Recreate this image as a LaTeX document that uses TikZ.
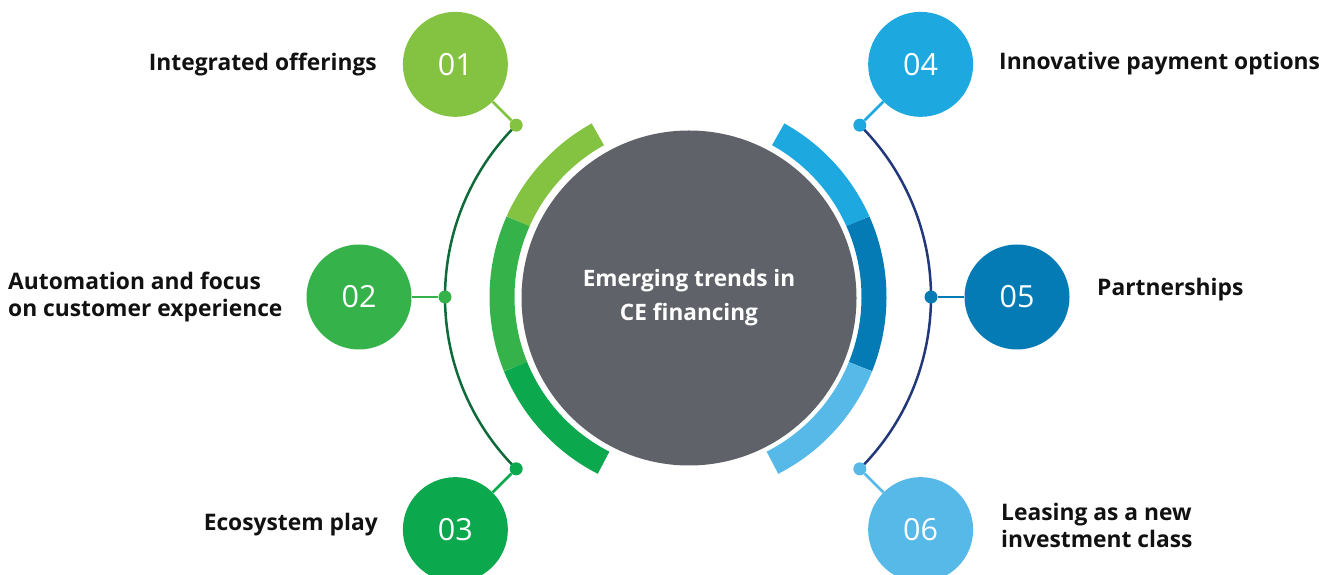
\documentclass[tikz,border=0pt]{standalone}
\usepackage{fontspec}
\setmainfont{Open Sans}
\usetikzlibrary{calc}
\definecolor{cOne}{HTML}{84C341}
\definecolor{cTwo}{HTML}{35B34A}
\definecolor{cThree}{HTML}{0BA84E}
\definecolor{cFour}{HTML}{1DA9E0}
\definecolor{cFive}{HTML}{047BB5}
\definecolor{cSix}{HTML}{56B9E7}
\definecolor{hubgray}{HTML}{5F6369}
\definecolor{leftline}{HTML}{0E6B39}
\definecolor{rightline}{HTML}{22387A}
\definecolor{labeltext}{HTML}{111111}
\tikzset{
  numbadge/.style={circle, fill=#1, minimum size=105pt, inner sep=0pt,
    text=white, font=\fontsize{30.5}{30}\selectfont},
  joint/.style={circle, fill=#1, minimum size=13pt, inner sep=0pt},
  stem/.style={draw=#1, line width=2.5pt},
  band/.style={line width=25pt, draw=#1},
  guide/.style={line width=2.5pt, draw=#1},
  trendlabel/.style={text=labeltext, font=\fontsize{22.8}{27}\selectfont\bfseries, inner sep=0pt},
}
\begin{document}
\begin{tikzpicture}[x=1pt,y=1pt]
\useasboundingbox (0,0) rectangle (1332,575);
\clip (0,0) rectangle (1332,575);
\coordinate (C) at (688,278);

% central hub
\node[circle, fill=hubgray, minimum size=335pt, inner sep=0pt, text=white,
  font=\fontsize{22.6}{34}\selectfont\bfseries, align=center] (hub) at (689,277)
  {Emerging trends in\\CE financing};

% coloured ring segments around the hub
\draw[band=cOne]   ($(C)+(119:186)$) arc[start angle=119, end angle=156, radius=186];
\draw[band=cTwo]   ($(C)+(156:186)$) arc[start angle=156, end angle=202, radius=186];
\draw[band=cThree] ($(C)+(202:186)$) arc[start angle=202, end angle=243, radius=186];
\draw[band=cFour]  ($(C)+(61:186)$)  arc[start angle=61,  end angle=24,  radius=186];
\draw[band=cFive]  ($(C)+(24:186)$)  arc[start angle=24,  end angle=-22, radius=186];
\draw[band=cSix]   ($(C)+(-22:186)$) arc[start angle=-22, end angle=-63, radius=186];

% thin guide arcs
\draw[guide=leftline]  ($(C)+(135:243)$) arc[start angle=135, end angle=225, radius=243];
\draw[guide=rightline] ($(C)+(45:243)$)  arc[start angle=45,  end angle=-45, radius=243];

% number badges
\node[numbadge=cOne]   (n1) at ($(C)+(135:329)$) {01};
\node[numbadge=cTwo]   (n2) at ($(C)+(180:329)$) {02};
\node[numbadge=cThree] (n3) at ($(C)+(225:329)$) {03};
\node[numbadge=cFour]  (n4) at ($(C)+(45:329)$)  {04};
\node[numbadge=cFive]  (n5) at ($(C)+(0:329)$)   {05};
\node[numbadge=cSix]   (n6) at ($(C)+(-45:329)$) {06};

% joints on the guide arcs
\node[joint=cOne]   (d1) at ($(C)+(135:243)$) {};
\node[joint=cTwo]   (d2) at ($(C)+(180:243)$) {};
\node[joint=cThree] (d3) at ($(C)+(225:243)$) {};
\node[joint=cFour]  (d4) at ($(C)+(45:243)$)  {};
\node[joint=cFive]  (d5) at ($(C)+(0:243)$)   {};
\node[joint=cSix]   (d6) at ($(C)+(-45:243)$) {};

% stems from joints to badges
\draw[stem=cOne]   (d1) -- (n1);
\draw[stem=cTwo]   (d2) -- (n2);
\draw[stem=cThree] (d3) -- (n3);
\draw[stem=cFour]  (d4) -- (n4);
\draw[stem=cFive]  (d5) -- (n5);
\draw[stem=cSix]   (d6) -- (n6);

% labels
\node[trendlabel, anchor=east] (l1) at (377,510) {Integrated offerings};
\node[trendlabel, anchor=west, align=left] (l2) at (8,278) {Automation and focus\\on customer experience};
\node[trendlabel, anchor=east] (l3) at (378,50) {Ecosystem play};
\node[trendlabel, anchor=west] (l4) at (999,511) {Innovative payment options};
\node[trendlabel, anchor=west] (l5) at (1097,285) {Partnerships};
\node[trendlabel, anchor=west, align=left] (l6) at (1001,50) {Leasing as a new\\investment class};
\end{tikzpicture}
\end{document}
